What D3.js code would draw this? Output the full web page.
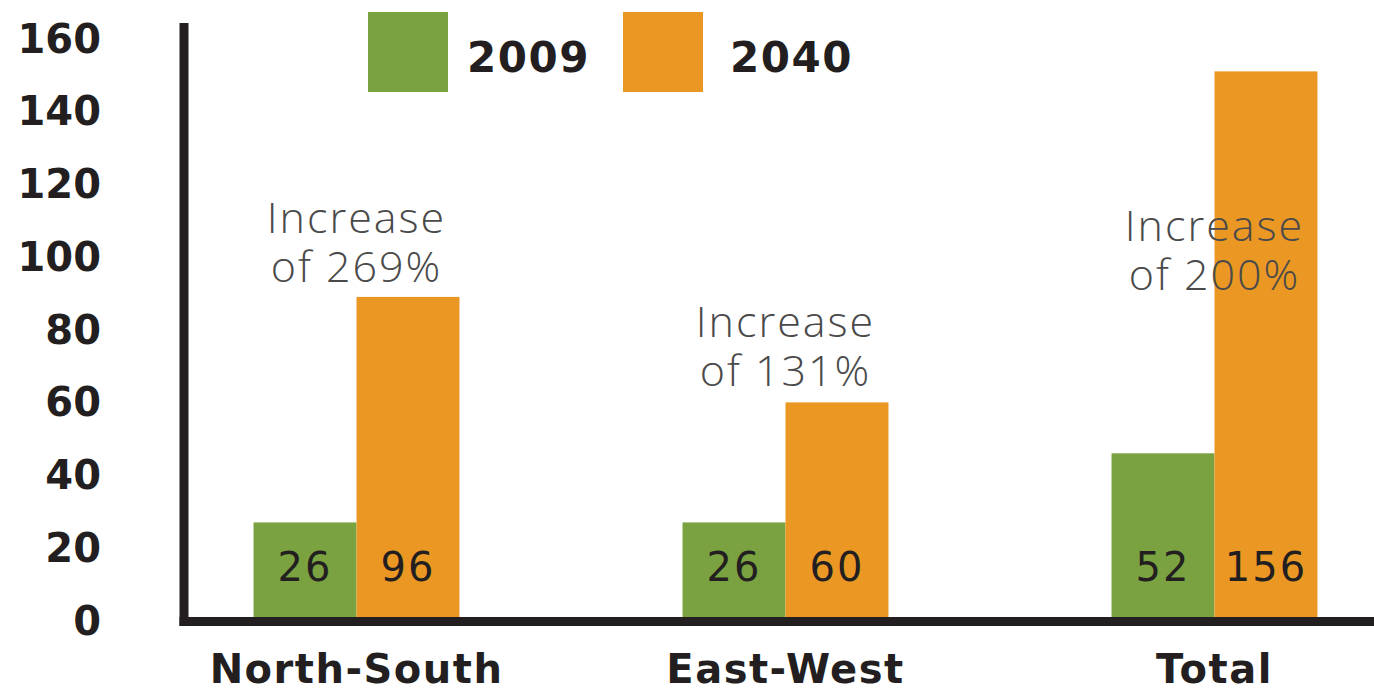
<!DOCTYPE html>
<html>
<head>
<meta charset="utf-8">
<script src="https://cdn.jsdelivr.net/npm/d3@7"></script>
<style>
  body { margin: 0; background: #fff; }
  svg { display: block; }
</style>
</head>
<body>
<svg width="1374" height="695"></svg>
<script>
const categories = ["North-South", "East-West", "Total"];
const seriesNames = ["2009", "2040"];
// bar heights as drawn in the picture
const values2009 = [26, 26, 45];
const values2040 = [88, 59, 150];
// numbers printed on the bars
const labels2009 = ["26", "26", "52"];
const labels2040 = ["96", "60", "156"];
const noteLines = [["Increase", "of 269%"], ["Increase", "of 131%"], ["Increase", "of 200%"]];
const noteAt = [92, 63.5, 90];
const yTicks = [0, 20, 40, 60, 80, 100, 120, 140, 160];
const colors = ["#7aa240", "#ea9823"];

const ink = "#231f20";
const svg = d3.select("svg");

const x0 = d3.scaleBand()
  .domain(categories)
  .range([142, 1429])
  .paddingInner(0.52)
  .paddingOuter(0.26);

const x1 = d3.scaleBand()
  .domain(seriesNames)
  .range([0, x0.bandwidth()]);

const y = d3.scaleLinear()
  .domain([0, 160])
  .range([617, 35]);

const rows = categories.map((c, i) => ({
  cat: c,
  bars: [
    { s: "2009", v: values2009[i], label: labels2009[i], color: colors[0] },
    { s: "2040", v: values2040[i], label: labels2040[i], color: colors[1] }
  ],
  note: noteLines[i],
  noteY: noteAt[i]
}));

// bars
const groups = svg.selectAll("g.group")
  .data(rows)
  .enter()
  .append("g")
  .attr("class", "group")
  .attr("transform", d => `translate(${x0(d.cat)},0)`);

groups.selectAll("rect")
  .data(d => d.bars)
  .enter()
  .append("rect")
  .attr("x", b => x1(b.s))
  .attr("y", b => y(b.v))
  .attr("width", x1.bandwidth())
  .attr("height", b => y(0) - y(b.v))
  .attr("fill", b => b.color);

groups.selectAll("text.value")
  .data(d => d.bars)
  .enter()
  .append("text")
  .attr("class", "value")
  .attr("x", b => x1(b.s) + x1.bandwidth() / 2)
  .attr("y", y(0) - 36)
  .attr("text-anchor", "middle")
  .attr("font-family", "DejaVu Sans")
  .attr("font-size", 40)
  .attr("letter-spacing", 2)
  .attr("fill", ink)
  .text(b => b.label);

// annotations, one text per line
groups.each(function (d) {
  const g = d3.select(this);
  d.note.forEach((line, k) => {
    g.append("text")
      .attr("x", x0.bandwidth() / 2)
      .attr("y", y(d.noteY) - (d.note.length - 1 - k) * 49)
      .attr("text-anchor", "middle")
      .attr("font-family", "'Open Sans', sans-serif")
      .attr("font-weight", 300)
      .attr("font-size", 43)
      .attr("letter-spacing", 2)
      .attr("fill", "#4a4a4a")
      .text(line);
  });
});

// y axis labels
const yAxis = svg.append("g")
  .attr("transform", "translate(184,0)")
  .call(d3.axisLeft(y).tickValues(yTicks).tickSize(0).tickPadding(83));
yAxis.select(".domain").remove();
yAxis.selectAll("text")
  .attr("dy", "0.43em")
  .attr("font-family", "DejaVu Sans")
  .attr("font-weight", "bold")
  .attr("font-size", 40)
  .attr("fill", ink);

// x axis labels
const xAxis = svg.append("g")
  .attr("transform", `translate(0,${y(0)})`)
  .call(d3.axisBottom(x0).tickSize(0).tickPadding(38));
xAxis.select(".domain").remove();
xAxis.selectAll("text")
  .attr("font-family", "DejaVu Sans")
  .attr("font-weight", "bold")
  .attr("font-size", 40)
  .attr("letter-spacing", 1.5)
  .attr("fill", ink);

// axis lines
svg.append("line")
  .attr("x1", 184).attr("x2", 184)
  .attr("y1", 23).attr("y2", y(0) + 9)
  .attr("stroke", ink).attr("stroke-width", 9);
svg.append("line")
  .attr("x1", 179.5).attr("x2", 1374)
  .attr("y1", y(0) + 4.5).attr("y2", y(0) + 4.5)
  .attr("stroke", ink).attr("stroke-width", 9);

// legend
const legend = svg.append("g")
  .selectAll("g")
  .data(seriesNames)
  .enter()
  .append("g")
  .attr("transform", (d, i) => `translate(${368 + i * 255},12)`);

legend.append("rect")
  .attr("width", 80)
  .attr("height", 80)
  .attr("fill", (d, i) => colors[i]);

legend.append("text")
  .attr("x", (d, i) => i === 0 ? 99 : 107)
  .attr("y", 60)
  .attr("font-family", "DejaVu Sans")
  .attr("font-weight", "bold")
  .attr("font-size", 42)
  .attr("letter-spacing", 1.5)
  .attr("fill", ink)
  .text(d => d);
</script>
</body>
</html>
